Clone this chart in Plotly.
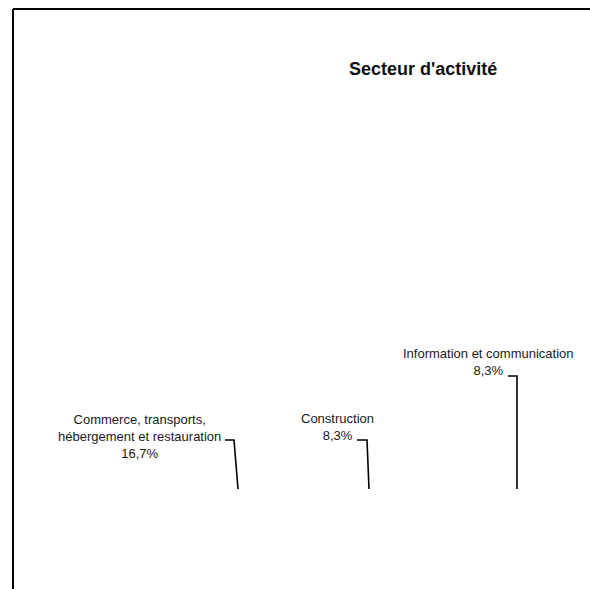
import plotly.graph_objects as go

# Data (shares by sector)
categories = [
    "Commerce, transports,<br>hébergement et restauration",
    "Construction",
    "Information et communication",
]
shares = [16.7, 8.3, 8.3]

title = "Secteur d'activité"

# Layout: label centres and leader line paths (pixel space)
label_pos = [(139, 436), (337, 427), (488, 362)]
leader_paths = [
    [(225, 440), (234, 440), (238, 489)],
    [(357, 440), (367, 440), (369, 489)],
    [(508, 376), (517, 376), (517, 489)],
]

W, H = 590, 589
FONT = "Liberation Sans, Arial, sans-serif"

fig = go.Figure()

for path in leader_paths:
    fig.add_trace(go.Scatter(
        x=[p[0] for p in path], y=[p[1] for p in path],
        mode="lines", line=dict(color="black", width=1.6),
        hoverinfo="skip", showlegend=False,
    ))

for cat, val, (lx, ly) in zip(categories, shares, label_pos):
    txt = f"{cat}<br>{val:.1f}%".replace(".", ",")
    fig.add_annotation(
        x=lx, y=ly, text=txt, showarrow=False,
        xanchor="center", yanchor="middle", align="center",
        font=dict(family=FONT, size=13, color="#1a1a1a"),
    )

fig.add_annotation(
    x=423, y=69, text=f"<b>{title}</b>", showarrow=False,
    xanchor="center", yanchor="middle",
    font=dict(family=FONT, size=18, color="#111111"),
)

# Frame (top and left borders of the clipped chart box)
fig.add_shape(type="line", x0=13, y0=9, x1=W, y1=9, line=dict(color="black", width=2))
fig.add_shape(type="line", x0=13, y0=9, x1=13, y1=H, line=dict(color="black", width=2))

fig.update_layout(
    width=W, height=H,
    margin=dict(l=0, r=0, t=0, b=0),
    paper_bgcolor="white", plot_bgcolor="white",
    xaxis=dict(range=[0, W], visible=False, fixedrange=True),
    yaxis=dict(range=[H, 0], visible=False, fixedrange=True),
    showlegend=False,
)

fig.write_html(
    "out.html",
    config={"displayModeBar": False},
    post_script="document.body.style.margin='0';document.body.style.overflow='hidden';",
)
